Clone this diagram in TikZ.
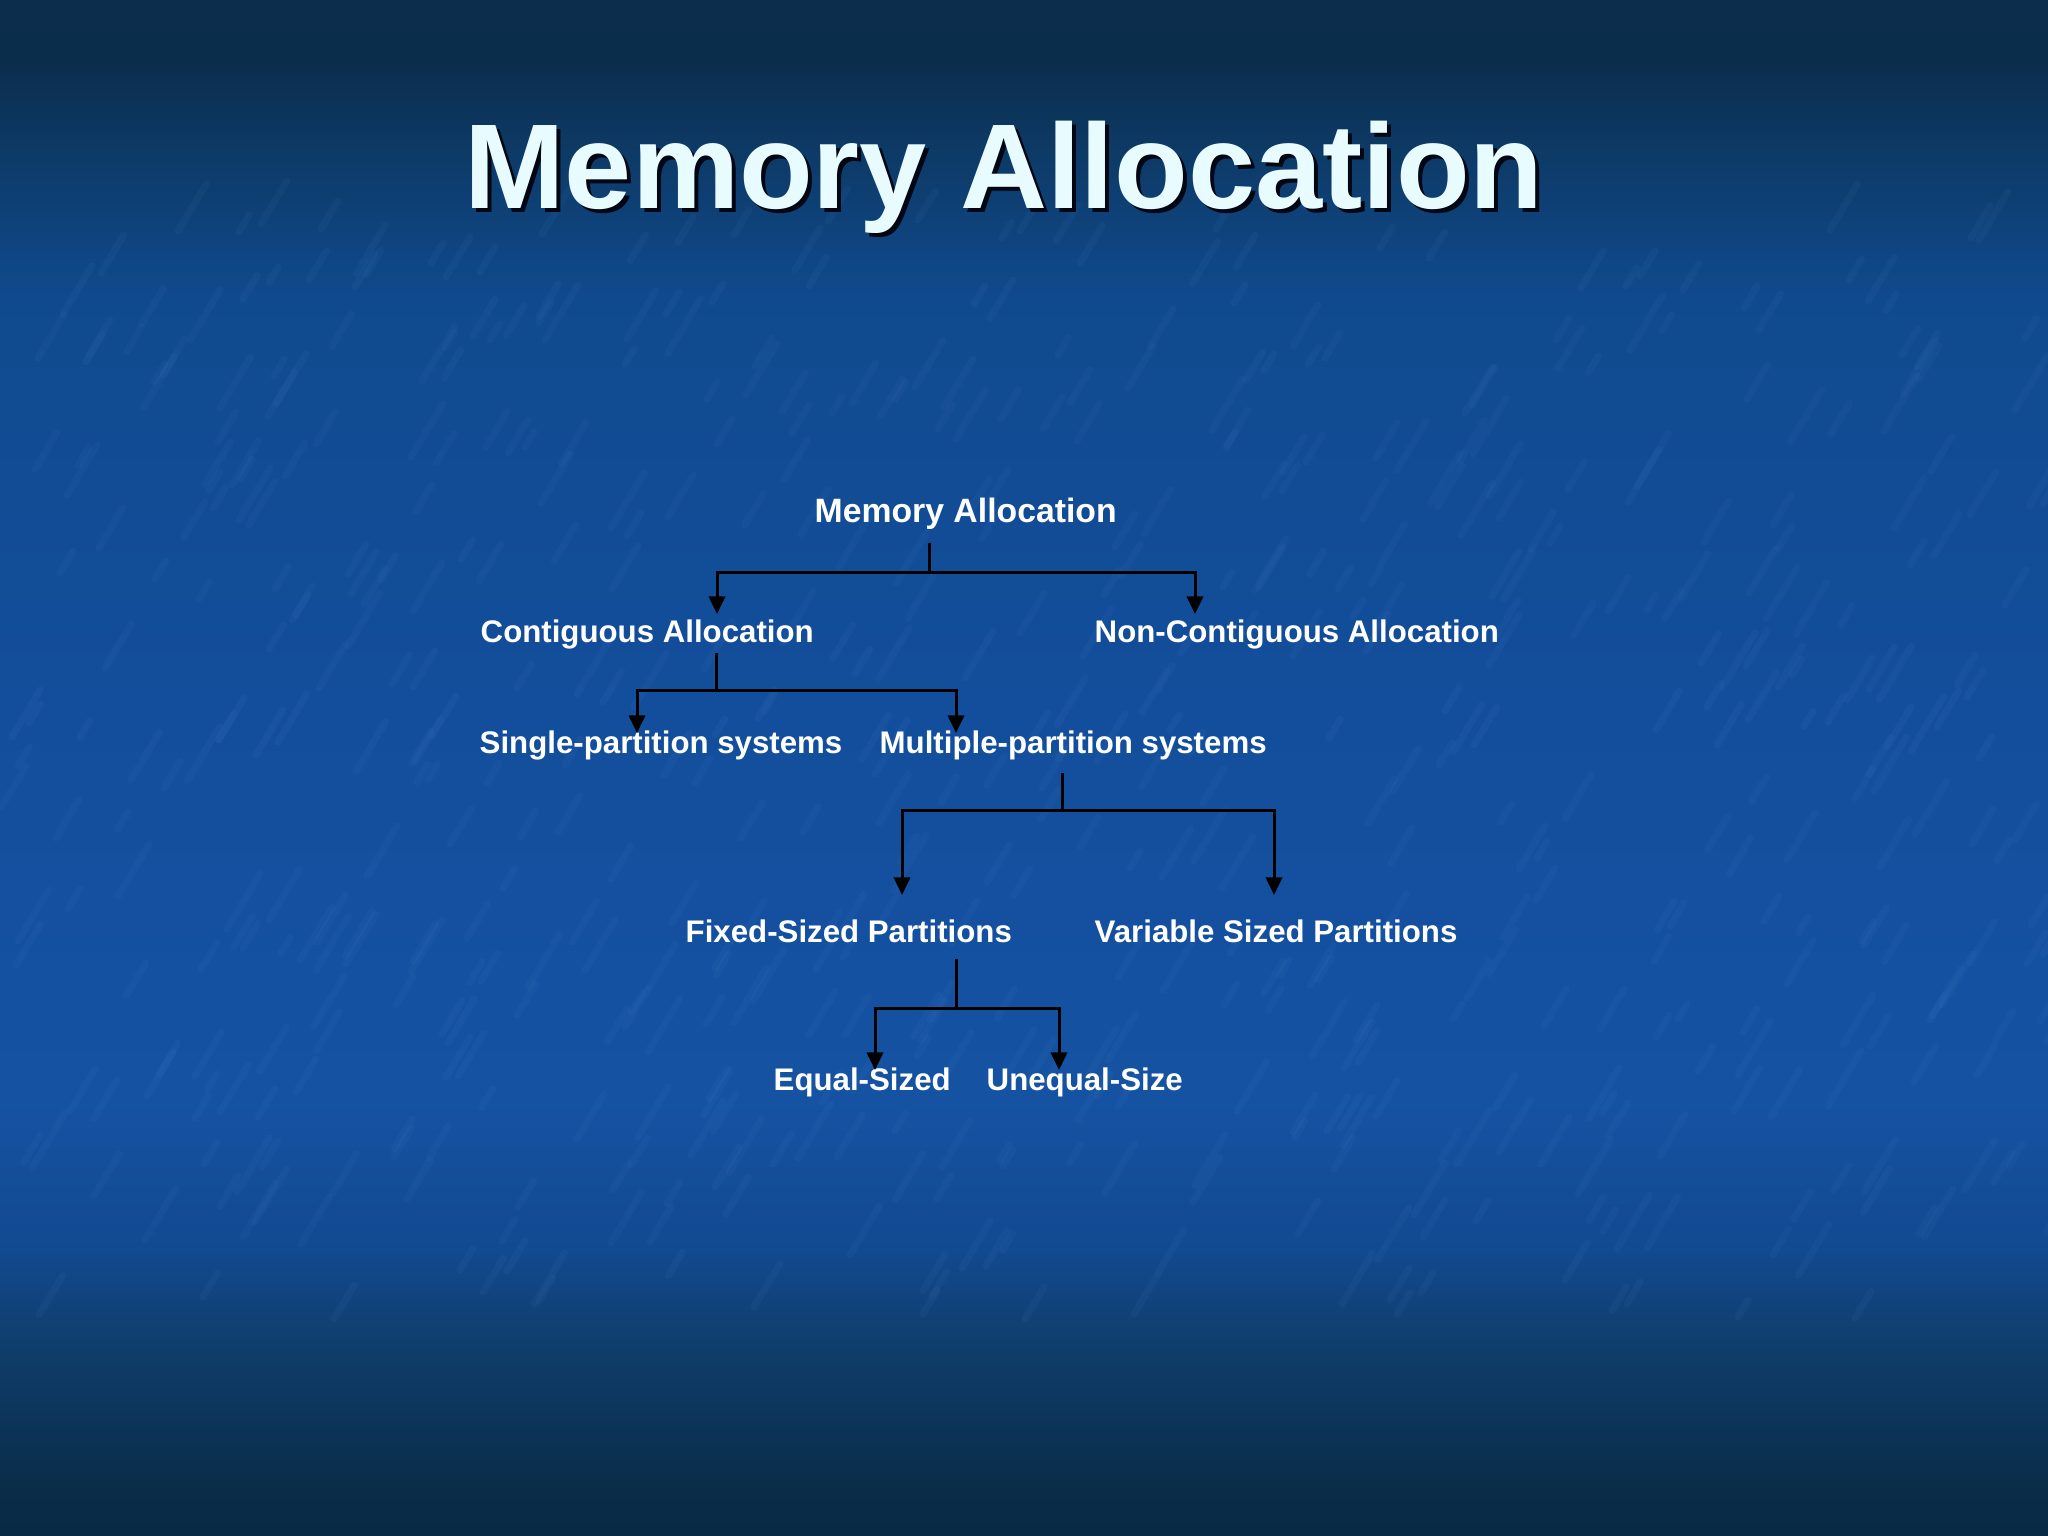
\documentclass[tikz,border=0pt]{standalone}
\usepackage{fontspec}
\setmainfont{Liberation Sans}
\usetikzlibrary{arrows.meta}
\definecolor{bgA}{HTML}{0C2E4C}
\definecolor{bgB}{HTML}{0B2D4C}
\definecolor{bgC}{HTML}{0D3A66}
\definecolor{bgD}{HTML}{104A8E}
\definecolor{bgE}{HTML}{134E9C}
\definecolor{bgF}{HTML}{1552A2}
\definecolor{bgG}{HTML}{124A90}
\definecolor{bgH}{HTML}{0F3D6A}
\definecolor{bgI}{HTML}{0A2C48}
\definecolor{bgJ}{HTML}{082A44}
\definecolor{streak}{HTML}{6FA4E8}
\definecolor{titlecol}{RGB}{232,252,255}
\definecolor{shadowcol}{RGB}{0,6,18}
\tikzset{
  titletext/.style={anchor=base, inner sep=0pt, font=\fontsize{34.3pt}{40pt}\selectfont\bfseries},
  toplabel/.style={anchor=base west, inner sep=0pt, text=white, font=\fontsize{9.6pt}{11pt}\selectfont\bfseries},
  label/.style={anchor=base west, inner sep=0pt, text=white, font=\fontsize{8.88pt}{10pt}\selectfont\bfseries},
  conn/.style={draw=black, line width=0.85pt},
  arr/.style={-{Triangle[length=5pt,width=4.6pt]}}
}
\begin{document}
\begin{tikzpicture}[x=0.01cm,y=-0.01cm]
\useasboundingbox (0,0) rectangle (2048,1536);
% background gradient
\shade[top color=bgA, bottom color=bgB] (0,0) rectangle (2048,61);
\shade[top color=bgB, bottom color=bgC] (0,60) rectangle (2048,151);
\shade[top color=bgC, bottom color=bgD] (0,150) rectangle (2048,301);
\shade[top color=bgD, bottom color=bgE] (0,300) rectangle (2048,701);
\shade[top color=bgE, bottom color=bgF] (0,700) rectangle (2048,1101);
\shade[top color=bgF, bottom color=bgG] (0,1100) rectangle (2048,1251);
\shade[top color=bgG, bottom color=bgH] (0,1250) rectangle (2048,1351);
\shade[top color=bgH, bottom color=bgI] (0,1350) rectangle (2048,1491);
\shade[top color=bgI, bottom color=bgJ] (0,1490) rectangle (2048,1536);
% subtle texture streaks
\pgfmathsetseed{7}
\foreach \i in {1,...,600}{
  \pgfmathsetmacro{\sx}{random(0,2048)}
  \pgfmathsetmacro{\sy}{random(220,1320)}
  \pgfmathsetmacro{\sl}{random(15,55)}
  \draw[streak, opacity=0.055, line width=2pt, line cap=round]
    (\sx,\sy) -- ++(0.6*\sl,-\sl);
}

% title
\node[titletext, text=shadowcol] (titleshadow) at (1008,212) {Memory Allocation};
\node[titletext, text=titlecol] (title) at (1004,208) {Memory Allocation};

% nodes
\node[toplabel] (top) at (814,522) {Memory Allocation};
\node[label] (cont) at (480,642) {Contiguous Allocation};
\node[label] (noncont) at (1094,642) {Non-Contiguous Allocation};
\node[label] (single) at (479,753) {Single-partition systems};
\node[label] (multi) at (879,753) {Multiple-partition systems};
\node[label] (fixed) at (685,942) {Fixed-Sized Partitions};
\node[label] (var) at (1094,942) {Variable Sized Partitions};
\node[label] (equal) at (773,1090) {Equal-Sized};
\node[label] (unequal) at (986,1090) {Unequal-Size};

% connector coordinates
\coordinate (s1) at (929,543);  \coordinate (j1) at (929,572);
\coordinate (a1) at (717,614);  \coordinate (a2) at (1195,614);
\coordinate (s2) at (716,653);  \coordinate (j2) at (716,690);
\coordinate (a3) at (637,733);  \coordinate (a4) at (956,733);
\coordinate (s3) at (1062,773); \coordinate (j3) at (1062,810);
\coordinate (a5) at (902,895);  \coordinate (a6) at (1274,895);
\coordinate (s4) at (956,959);  \coordinate (j4) at (956,1008);
\coordinate (a7) at (875,1070); \coordinate (a8) at (1059,1070);

% connectors
\draw[conn] (s1) -- (j1);
\draw[conn,arr] (j1) -| (a1);
\draw[conn,arr] (j1) -| (a2);
\draw[conn] (s2) -- (j2);
\draw[conn,arr] (j2) -| (a3);
\draw[conn,arr] (j2) -| (a4);
\draw[conn] (s3) -- (j3);
\draw[conn,arr] (j3) -| (a5);
\draw[conn,arr] (j3) -| (a6);
\draw[conn] (s4) -- (j4);
\draw[conn,arr] (j4) -| (a7);
\draw[conn,arr] (j4) -| (a8);
\end{tikzpicture}
\end{document}
